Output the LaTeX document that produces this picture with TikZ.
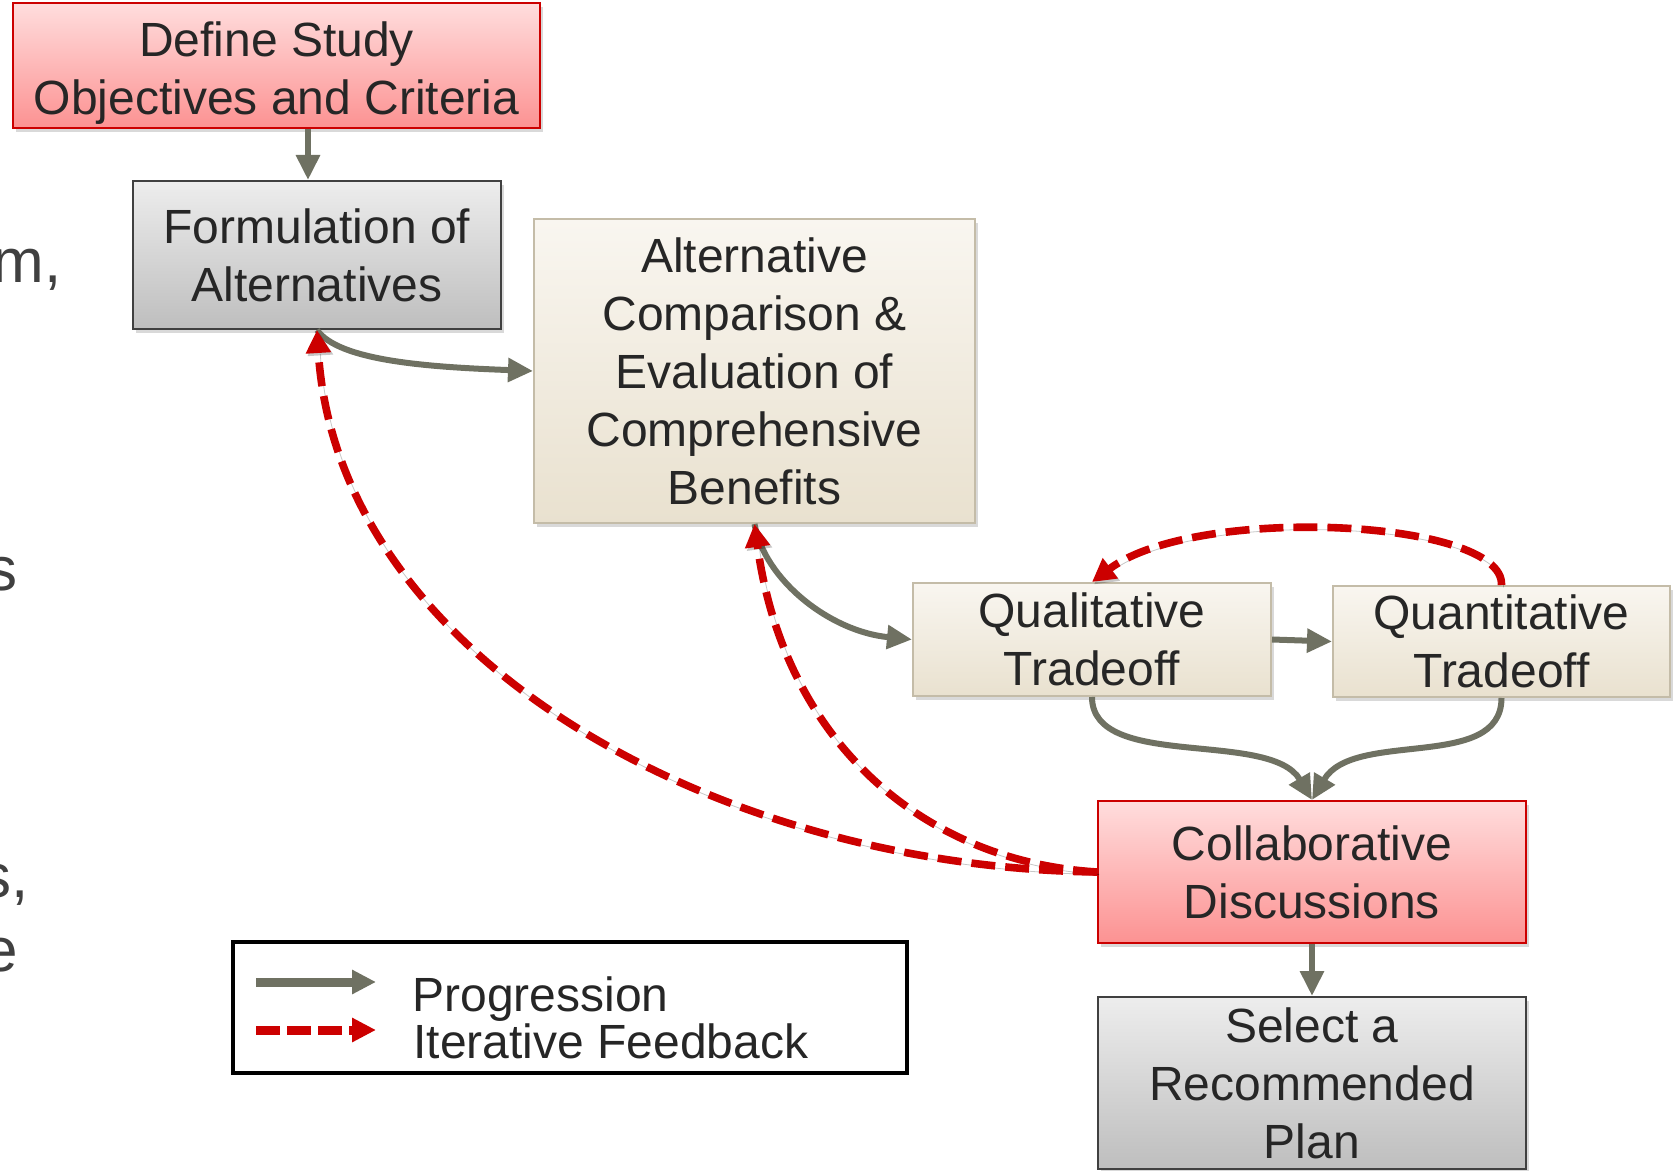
\documentclass[tikz,border=0pt]{standalone}
\usepackage{fontspec}
\setmainfont{Liberation Sans}
\usetikzlibrary{arrows.meta,shadows,calc}
\definecolor{redB}{RGB}{204,0,0}
\definecolor{pinkT}{RGB}{255,221,221}
\definecolor{pinkB}{RGB}{252,146,146}
\definecolor{grayT}{RGB}{237,237,237}
\definecolor{grayB}{RGB}{190,190,190}
\definecolor{grayD}{RGB}{64,64,64}
\definecolor{beigeT}{RGB}{249,246,240}
\definecolor{beigeB}{RGB}{233,225,207}
\definecolor{beigeD}{RGB}{196,188,168}
\definecolor{progC}{RGB}{111,113,98}
\definecolor{txtC}{RGB}{38,38,38}
\definecolor{fragC}{RGB}{64,64,64}
\begin{document}
\begin{tikzpicture}[x=0.5pt,y=-0.5pt,
 box/.style={rectangle, inner sep=0pt, align=center, text=txtC,
   font=\fontsize{24}{29}\selectfont, line width=1pt,
   drop shadow={shadow xshift=1.5pt, shadow yshift=-2pt, opacity=0.3}},
 redbox/.style={box, draw=redB, top color=pinkT, bottom color=pinkB},
 graybox/.style={box, draw=grayD, top color=grayT, bottom color=grayB},
 beigebox/.style={box, draw=beigeD, top color=beigeT, bottom color=beigeB},
 prog/.style={draw=progC, line width=3pt, -{Triangle[length=12.5pt,width=11.5pt]}},
 feedback/.style={draw=redB, line width=3.8pt, dash pattern=on 12pt off 5pt,
   -{Triangle[length=11.5pt,width=12pt]},
   preaction={draw=black, opacity=0.22, transform canvas={shift={(1pt,-1.2pt)}}}},
 frag/.style={anchor=base east, inner sep=0pt, text=fragC, font=\fontsize{31}{37}\selectfont},
 legtext/.style={anchor=base west, inner sep=0pt, text=txtC, font=\fontsize{24}{29}\selectfont}
]
\useasboundingbox (0,0) rectangle (1678,1171);

% cut-off text at the left edge (cut off in the reference too)
\begin{scope}
\clip (0,0) rectangle (200,1171);
\node[frag] (f1) at (62,283) {m,};
\node[frag] (f2) at (18,591) {s};
\node[frag] (f3) at (29,897) {s,};
\node[frag] (f4) at (18,971) {e};
\end{scope}

% boxes
\node[redbox, minimum width=263.5pt, minimum height=62.5pt] (def) at (276.5,65.5) {\rule{0pt}{25pt}Define Study\\Objectives and Criteria};
\node[graybox, minimum width=184pt, minimum height=74pt] (form) at (317,255) {Formulation of\\Alternatives};
\node[beigebox, minimum width=220.5pt, minimum height=152pt] (alt) at (754.5,371) {Alternative\\Comparison \&\\Evaluation of\\Comprehensive\\Benefits};
\node[beigebox, minimum width=179pt, minimum height=56.5pt] (qual) at (1092,639.5) {Qualitative\\Tradeoff};
\node[beigebox, minimum width=168.5pt, minimum height=55.5pt] (quant) at (1501.5,641.5) {Quantitative\\Tradeoff};
\node[redbox, minimum width=214pt, minimum height=71pt] (collab) at (1312,872) {Collaborative\\Discussions};
\node[graybox, minimum width=214pt, minimum height=86pt] (sel) at (1312,1083) {Select a\\Recommended\\Plan};

% progression arrows
\coordinate (fin) at ($(form.north)+(-9,0)$);
\draw[prog] (fin |- def.south) -- (fin);
\draw[prog] (form.south) .. controls +(22,31) and +(-105,-4) .. (alt.west);
\draw[prog] (alt.south) .. controls +(10,56) and +(-82,-8) .. (qual.west);
\draw[prog] (qual.east) -- (quant.west);
\draw[prog] (qual.south) .. controls +(0,74) and +(-42,-71) .. (collab.north);
\draw[prog] (quant.south) .. controls +(0,74) and +(42,-71) .. (collab.north);
\draw[prog] (collab.south) -- (sel.north);

% iterative feedback
\draw[feedback] (collab.west) .. controls +(-385,-5) and +(20,325) .. (form.south);
\draw[feedback] (collab.west) .. controls +(-170,-10) and +(30,221) .. (alt.south);
\draw[feedback] (quant.north) .. controls +(3,-66) and +(104,-78) .. (qual.north);

% legend
\node[draw=black, line width=1.75pt, minimum width=337pt, minimum height=65.5pt, inner sep=0pt] (legend) at (570,1007.5) {};
\coordinate (lp1) at (256,982);
\coordinate (lp2) at (376,982);
\coordinate (lf1) at (256,1030);
\coordinate (lf2) at (376,1030);
\draw[draw=progC, line width=4.5pt, -{Triangle[length=12pt,width=11.5pt]}] (lp1) -- (lp2);
\draw[draw=redB, line width=4.5pt, dash pattern=on 12pt off 3.5pt, -{Triangle[length=12pt,width=11.5pt]}] (lf1) -- (lf2);
\node[legtext] (lt1) at (412,1011) {Progression};
\node[legtext] (lt2) at (413,1058) {Iterative Feedback};
\end{tikzpicture}
\end{document}
